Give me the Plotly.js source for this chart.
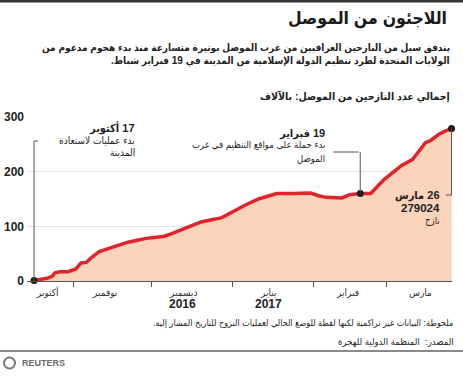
<!DOCTYPE html>
<html><head><meta charset="utf-8">
<script src="https://cdn.plot.ly/plotly-3.0.1.min.js"></script>
<style>html,body{margin:0;padding:0;background:#fff}#c{width:463px;height:378px}</style>
</head><body><div id="c"></div>
<script>
// ---- data (thousands of displaced people) ----
const dates = ['2016-10-17','2016-10-19','2016-10-22','2016-10-24','2016-10-25','2016-10-27','2016-10-30','2016-11-02','2016-11-04','2016-11-06','2016-11-08','2016-11-11','2016-11-15','2016-11-18','2016-11-22','2016-11-26','2016-11-29','2016-12-03','2016-12-06','2016-12-09','2016-12-13','2016-12-20','2016-12-28','2016-12-31','2017-01-02','2017-01-06','2017-01-11','2017-01-18','2017-01-24','2017-01-31','2017-02-03','2017-02-06','2017-02-12','2017-02-15','2017-02-19','2017-02-23','2017-02-28','2017-03-05','2017-03-07','2017-03-11','2017-03-16','2017-03-18','2017-03-21','2017-03-23','2017-03-26'];
const displaced = [1,3,5,9,15,17,17,22,33,34,43,54,60,66,71,75,78,80,82,87,95,108,116,124,130,139,150,160,160,161,156,153,152,158,160,160,185,205,212,222,253,257,268,273,279.024];
const markedDates = ['2016-10-17','2017-02-19','2017-03-26'];
const markedValues = [1,160,279.024];
const monthStarts = ['2016-11-01','2016-12-01','2017-01-01','2017-02-01','2017-03-01'];
const monthLabelDates = ['2016-10-22','2016-11-13','2016-12-13','2017-01-15','2017-02-14','2017-03-14'];
const monthLabels = ['أكتوبر','نوفمبر','ديسمبر','يناير','فبراير','مارس'];
const yearLabelDates = ['2016-12-13','2017-01-15'];
const yearLabels = ['2016','2017'];
const yTicks = [0,100,200,300];

const FONT = 'Liberation Sans, Arial, DejaVu Sans Condensed, DejaVu Sans, sans-serif';
const L=27, R=452, T=117, B=281, W=R-L, H=B-T;
const px = x => (x-L)/W;
const py = y => 1-(y-T)/H;
const rtl = s => '\u202B' + s + '\u202C';

function txt(text, xr, y, size, bold, color, anchor){
  return {xref:'paper', yref:'paper', x:px(xr), y:py(y), xanchor:anchor||'right', yanchor:'middle',
    text:text, showarrow:false, font:{family:FONT, size:size, color:color||'#222', weight: bold?'bold':'normal'}};
}

const ann = [
  txt(rtl('اللاجئون من الموصل'), 449, 18, 17.5, true, '#1a1a1a'),
  txt(rtl('يتدفق سيل من النازحين العراقيين من غرب الموصل بوتيرة متسارعة منذ بدء هجوم مدعوم من'), 452, 48, 10, true),
  txt(rtl('الولايات المتحدة لطرد تنظيم الدولة الإسلامية من المدينة في 19 فبراير شباط.'), 452, 61, 10, true),
  txt(rtl('إجمالي عدد النازحين من الموصل: بالآلاف'), 452, 96, 10.5, true),
  txt(rtl('17 أكتوبر'), 137, 128, 11, true),
  txt(rtl('بدء عمليات لاستعادة'), 137, 140, 10, false),
  txt(rtl('المدينة'), 137, 152, 10, false),
  txt(rtl('19 فبراير'), 327, 133, 11, true),
  txt(rtl('بدء حملة على مواقع التنظيم في غرب'), 327, 145, 9.5, false),
  txt(rtl('الموصل'), 327, 158, 9.5, false),
  txt(rtl('26 مارس'), 442, 195, 11, true),
  txt('279024', 442, 208, 11.5, true),
  txt(rtl('نازح'), 442, 220, 9.5, false),
  txt(rtl('ملحوظة: البيانات غير تراكمية لكنها لقطة للوضع الحالي لعمليات النزوح للتاريخ المشار إليه.'), 455, 323, 9, false),
  txt(rtl('المصدر:  المنظمة الدولية للهجرة'), 456, 341, 9.5, false),
  txt('REUTERS', 20, 363, 9, true, '#6a6a6a', 'left')
];
monthLabels.forEach((m,i)=>ann.push({xref:'x', yref:'paper', x:monthLabelDates[i], y:py(292), xanchor:'center', yanchor:'middle',
  text:m, showarrow:false, font:{family:FONT, size:10, color:'#333'}}));
yearLabels.forEach((m,i)=>ann.push({xref:'x', yref:'paper', x:yearLabelDates[i], y:py(304), xanchor:'center', yanchor:'middle',
  text:m, showarrow:false, font:{family:FONT, size:12, color:'#222', weight:'bold'}}));

const lc = {color:'#555', width:1};
const shapes = [
  {type:'line', xref:'paper', yref:'paper', x0:px(0), x1:px(463), y0:py(1), y1:py(1), line:{color:'#333', width:3}},
  {type:'line', xref:'paper', yref:'paper', x0:px(0), x1:px(463), y0:py(351), y1:py(351), line:{color:'#8a8a8a', width:2}},
  {type:'circle', xref:'paper', yref:'paper', x0:px(4), x1:px(15), y0:py(357.5), y1:py(368.5), line:{color:'#777', width:2}},
  // Oct 17 leader
  {type:'line', xref:'x', yref:'paper', x0:markedDates[0], x1:markedDates[0], y0:0, y1:py(141), line:lc},
  {type:'line', xref:'paper', yref:'paper', x0:px(34.3), x1:px(38), y0:py(141), y1:py(141), line:lc},
  // Feb 19 leader
  {type:'line', xref:'x', yref:'y', x0:markedDates[1], x1:markedDates[1], y0:markedValues[1], y1:(B-152)/H*300, line:lc},
  {type:'line', xref:'paper', yref:'paper', x0:px(333), x1:px(358.6), y0:py(152), y1:py(152), line:lc},
  // Mar 26 leader
  {type:'line', xref:'x', yref:'y', x0:markedDates[2], x1:markedDates[2], y0:markedValues[2], y1:(B-195)/H*300, line:lc},
  {type:'line', xref:'paper', yref:'paper', x0:px(446), x1:px(451.5), y0:py(195), y1:py(195), line:lc}
];

const traces = [
  {x:dates, y:displaced, type:'scatter', mode:'lines', fill:'tozeroy', fillcolor:'#fbd3bb',
   line:{color:'#e1232a', width:3.5}, hoverinfo:'skip'},
  {x:markedDates, y:markedValues, type:'scatter', mode:'markers', marker:{color:'#1a1a1a', size:7}, hoverinfo:'skip', cliponaxis:false}
];

const layout = {
  width:463, height:378, margin:{l:L, r:463-R, t:T, b:378-B},
  paper_bgcolor:'#fff', plot_bgcolor:'#fff', showlegend:false,
  font:{family:FONT},
  xaxis:{type:'date', range:['2016-10-14 07:00','2017-03-26 04:00'], showgrid:false, zeroline:false,
    showline:true, linecolor:'#555', linewidth:1, tickvals:monthStarts, ticks:'outside', ticklen:5, tickcolor:'#555',
    showticklabels:false, fixedrange:true},
  yaxis:{range:[0,300], tickvals:yTicks, showgrid:true, gridcolor:'#e2e2e2', gridwidth:1, zeroline:false,
    ticks:'', showline:false, tickfont:{family:FONT, size:12, color:'#222', weight:'bold'}, ticklabelstandoff:2, fixedrange:true},
  annotations:ann, shapes:shapes
};
Plotly.newPlot('c', traces, layout, {staticPlot:true, displayModeBar:false});
</script></body></html>
